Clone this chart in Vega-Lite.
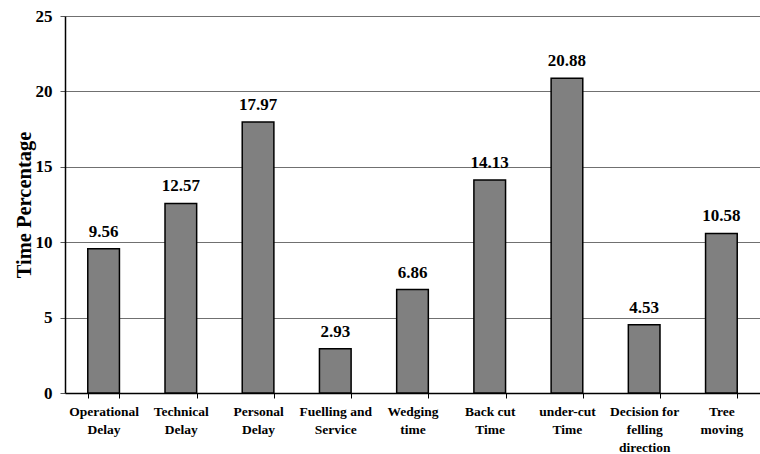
{
  "$schema": "https://vega.github.io/schema/vega-lite/v6.json",
  "autosize": "none",
  "padding": {"left": 65, "top": 16, "right": 0, "bottom": 61},
  "width": 695,
  "height": 377,
  "background": "white",
  "config": {
    "font": "Liberation Serif",
    "view": {"stroke": null}
  },
  "data": {
    "values": [
      {"activity": "Operational|Delay", "pct": 9.56},
      {"activity": "Technical|Delay", "pct": 12.57},
      {"activity": "Personal|Delay", "pct": 17.97},
      {"activity": "Fuelling and|Service", "pct": 2.93},
      {"activity": "Wedging|time", "pct": 6.86},
      {"activity": "Back cut|Time", "pct": 14.13},
      {"activity": "under-cut|Time", "pct": 20.88},
      {"activity": "Decision for|felling|direction", "pct": 4.53},
      {"activity": "Tree|moving", "pct": 10.58}
    ]
  },
  "encoding": {
    "x": {
      "field": "activity",
      "type": "nominal",
      "sort": null,
      "scale": {"paddingInner": 0.59, "paddingOuter": 0.295},
      "axis": {
        "title": null,
        "labelAngle": 0,
        "labelExpr": "split(datum.label, '|')",
        "labelFont": "Liberation Serif",
        "labelFontSize": 13.5,
        "labelFontWeight": "bold",
        "labelColor": "black",
        "labelLineHeight": 18,
        "labelPadding": 6,
        "labelBaseline": "top",
        "tickBand": "extent",
        "tickColor": "black",
        "tickSize": 5,
        "domainColor": "black",
        "domainWidth": 1.5,
        "grid": false
      }
    },
    "y": {
      "field": "pct",
      "type": "quantitative",
      "scale": {"domain": [0, 25], "nice": false},
      "axis": {
        "title": "Time Percentage",
        "titleFont": "Liberation Serif",
        "titleFontSize": 20.5,
        "titleFontWeight": "bold",
        "titleColor": "black",
        "titlePadding": 1,
        "values": [0, 5, 10, 15, 20, 25],
        "labelFont": "Liberation Serif",
        "labelFontSize": 17,
        "labelFontWeight": "bold",
        "labelColor": "black",
        "labelPadding": 8,
        "tickSize": 5,
        "tickColor": "#555555",
        "domainColor": "black",
        "domainWidth": 1.5,
        "grid": true,
        "gridColor": "#707070",
        "gridWidth": 1
      }
    }
  },
  "layer": [
    {
      "mark": {"type": "bar", "color": "#808080", "stroke": "black", "strokeWidth": 1.5}
    },
    {
      "mark": {
        "type": "text",
        "baseline": "alphabetic",
        "dy": -12,
        "font": "Liberation Serif",
        "fontSize": 17,
        "fontWeight": "bold",
        "color": "black"
      },
      "encoding": {
        "text": {"field": "pct", "type": "quantitative", "format": ".2f"}
      }
    }
  ]
}
